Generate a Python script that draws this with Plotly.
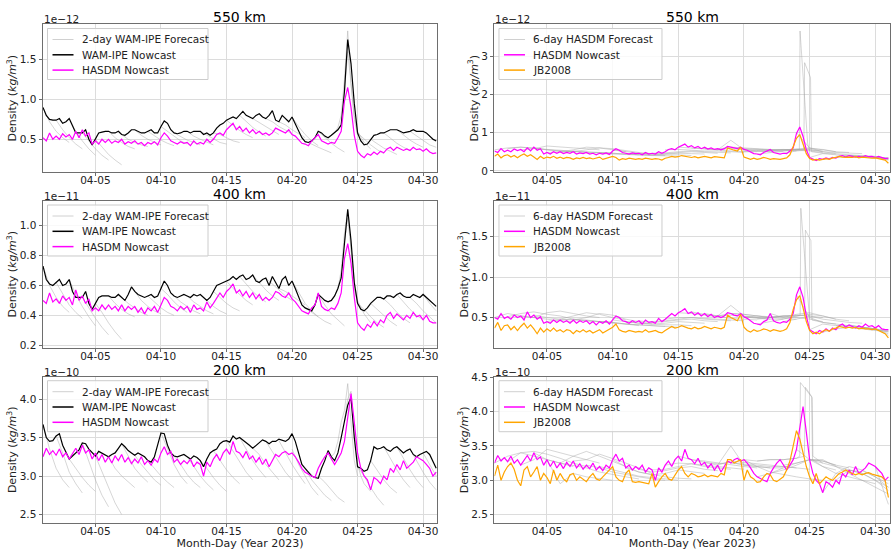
import pandas as pd
import plotly.graph_objects as go

T0 = pd.Timestamp("2023-04-01 00:00")
NOW_STEP_H = 6  # nowcast sampling (hours)

# ---------------- Nowcasts (6-hourly, 04-01 00:00 .. 05-01 00:00) ----------------
WAM_550 = [0.90, 0.80, 0.75, 0.74, 0.74, 0.76, 0.70, 0.72, 0.76, 0.66, 0.58, 0.58,
           0.58, 0.62, 0.50, 0.43, 0.50, 0.58, 0.59, 0.60, 0.60, 0.58, 0.58, 0.60,
           0.56, 0.55, 0.58, 0.62, 0.62, 0.60, 0.58, 0.58, 0.60, 0.62, 0.58, 0.58,
           0.66, 0.73, 0.70, 0.62, 0.58, 0.57, 0.58, 0.60, 0.60, 0.58, 0.60, 0.60,
           0.60, 0.56, 0.58, 0.55, 0.58, 0.64, 0.68, 0.70, 0.74, 0.76, 0.78, 0.76,
           0.80, 0.85, 0.80, 0.78, 0.76, 0.80, 0.82, 0.78, 0.76, 0.80, 0.86, 0.74,
           0.72, 0.80, 0.76, 0.72, 0.78, 0.70, 0.62, 0.52, 0.47, 0.46, 0.48, 0.52,
           0.60, 0.58, 0.54, 0.52, 0.55, 0.58, 0.62, 0.68, 1.10, 1.75, 1.45, 0.95,
           0.58, 0.48, 0.43, 0.44, 0.50, 0.55, 0.56, 0.58, 0.58, 0.60, 0.62, 0.62,
           0.62, 0.60, 0.58, 0.59, 0.60, 0.62, 0.60, 0.60, 0.60, 0.58, 0.54, 0.50,
           0.48]
HASDM_550 = [0.52, 0.48, 0.58, 0.50, 0.54, 0.50, 0.57, 0.53, 0.56, 0.50, 0.60, 0.52,
             0.62, 0.54, 0.58, 0.44, 0.48, 0.44, 0.50, 0.46, 0.50, 0.45, 0.48, 0.46,
             0.50, 0.44, 0.47, 0.45, 0.48, 0.44, 0.46, 0.42, 0.46, 0.44, 0.47, 0.43,
             0.52, 0.58, 0.54, 0.48, 0.46, 0.44, 0.47, 0.45, 0.46, 0.42, 0.48, 0.44,
             0.46, 0.44, 0.50, 0.46, 0.50, 0.56, 0.58, 0.55, 0.62, 0.66, 0.70, 0.62,
             0.66, 0.60, 0.64, 0.58, 0.62, 0.57, 0.60, 0.56, 0.58, 0.55, 0.58, 0.64,
             0.62, 0.60, 0.58, 0.62, 0.56, 0.54, 0.50, 0.45, 0.44, 0.42, 0.48, 0.52,
             0.56, 0.48, 0.46, 0.44, 0.46, 0.45, 0.52, 0.60, 0.98, 1.15, 0.90, 0.55,
             0.35, 0.30, 0.27, 0.32, 0.30, 0.34, 0.31, 0.35, 0.33, 0.38, 0.40, 0.36,
             0.40, 0.38, 0.36, 0.38, 0.36, 0.40, 0.37, 0.38, 0.35, 0.38, 0.34, 0.32,
             0.33]
JB_550 = [0.38, 0.44, 0.34, 0.40, 0.42, 0.36, 0.40, 0.34, 0.40, 0.44, 0.38, 0.42,
          0.36, 0.30, 0.38, 0.32, 0.36, 0.34, 0.38, 0.33, 0.36, 0.32, 0.35, 0.34,
          0.30, 0.34, 0.32, 0.35, 0.32, 0.34, 0.31, 0.33, 0.36, 0.30, 0.33, 0.35,
          0.38, 0.35, 0.28, 0.32, 0.30, 0.33, 0.31, 0.30, 0.32, 0.30, 0.33, 0.31,
          0.30, 0.32, 0.31, 0.28, 0.33, 0.35, 0.38, 0.36, 0.37, 0.40, 0.38, 0.36,
          0.35, 0.37, 0.34, 0.36, 0.38, 0.36, 0.34, 0.37, 0.36, 0.35, 0.34, 0.60,
          0.56, 0.54, 0.52, 0.62, 0.36, 0.32, 0.30, 0.33, 0.30, 0.32, 0.35, 0.33,
          0.30, 0.32, 0.31, 0.30, 0.32, 0.34, 0.42, 0.62, 0.85, 0.95, 0.70, 0.45,
          0.32, 0.28, 0.30, 0.28, 0.30, 0.32, 0.30, 0.34, 0.35, 0.38, 0.36, 0.35,
          0.36, 0.35, 0.37, 0.34, 0.36, 0.35, 0.34, 0.33, 0.34, 0.32, 0.30, 0.28,
          0.20]

WAM_400 = [0.73, 0.64, 0.61, 0.60, 0.62, 0.64, 0.60, 0.61, 0.64, 0.56, 0.52, 0.52,
           0.52, 0.56, 0.48, 0.44, 0.48, 0.52, 0.53, 0.53, 0.53, 0.52, 0.52, 0.54,
           0.52, 0.50, 0.54, 0.59, 0.56, 0.54, 0.53, 0.52, 0.53, 0.54, 0.52, 0.53,
           0.58, 0.63, 0.60, 0.55, 0.53, 0.52, 0.53, 0.54, 0.53, 0.52, 0.54, 0.53,
           0.54, 0.52, 0.50, 0.52, 0.56, 0.60, 0.61, 0.62, 0.63, 0.64, 0.66, 0.64,
           0.66, 0.67, 0.64, 0.65, 0.67, 0.63, 0.62, 0.64, 0.65, 0.60, 0.66, 0.62,
           0.58, 0.64, 0.66, 0.60, 0.63, 0.58, 0.52, 0.47, 0.45, 0.44, 0.43, 0.47,
           0.54, 0.52, 0.50, 0.49, 0.50, 0.53, 0.58, 0.65, 0.90, 1.11, 0.90, 0.62,
           0.48, 0.44, 0.43, 0.45, 0.48, 0.50, 0.52, 0.52, 0.51, 0.53, 0.53, 0.52,
           0.54, 0.55, 0.53, 0.52, 0.52, 0.54, 0.53, 0.52, 0.54, 0.52, 0.50, 0.48,
           0.46]
HASDM_400 = [0.50, 0.48, 0.55, 0.49, 0.51, 0.48, 0.53, 0.50, 0.52, 0.47, 0.57, 0.50,
             0.53, 0.48, 0.51, 0.43, 0.45, 0.43, 0.47, 0.44, 0.47, 0.44, 0.46, 0.43,
             0.47, 0.43, 0.46, 0.44, 0.46, 0.42, 0.45, 0.41, 0.45, 0.43, 0.46, 0.42,
             0.47, 0.52, 0.50, 0.46, 0.45, 0.43, 0.46, 0.44, 0.46, 0.42, 0.47, 0.44,
             0.45, 0.43, 0.49, 0.45, 0.48, 0.52, 0.55, 0.52, 0.56, 0.58, 0.61, 0.55,
             0.57, 0.53, 0.56, 0.52, 0.55, 0.51, 0.54, 0.50, 0.52, 0.50, 0.52, 0.56,
             0.55, 0.53, 0.52, 0.55, 0.51, 0.49, 0.46, 0.43, 0.42, 0.41, 0.45, 0.47,
             0.55, 0.46, 0.44, 0.43, 0.45, 0.44, 0.48, 0.55, 0.78, 0.88, 0.75, 0.52,
             0.35, 0.32, 0.30, 0.34, 0.32, 0.36, 0.33, 0.37, 0.35, 0.40, 0.42, 0.38,
             0.41, 0.39, 0.37, 0.40, 0.38, 0.42, 0.39, 0.40, 0.37, 0.40, 0.36, 0.35,
             0.35]
JB_400 = [0.37, 0.44, 0.34, 0.40, 0.41, 0.35, 0.39, 0.34, 0.39, 0.43, 0.37, 0.41,
          0.36, 0.30, 0.37, 0.32, 0.36, 0.33, 0.37, 0.33, 0.35, 0.32, 0.35, 0.34,
          0.30, 0.34, 0.32, 0.35, 0.32, 0.34, 0.31, 0.33, 0.35, 0.31, 0.33, 0.35,
          0.38, 0.42, 0.35, 0.33, 0.32, 0.34, 0.33, 0.32, 0.33, 0.32, 0.35, 0.32,
          0.33, 0.34, 0.32, 0.31, 0.34, 0.36, 0.39, 0.37, 0.38, 0.40, 0.38, 0.37,
          0.36, 0.38, 0.36, 0.37, 0.39, 0.37, 0.36, 0.38, 0.37, 0.36, 0.38, 0.53,
          0.50, 0.48, 0.46, 0.54, 0.38, 0.34, 0.32, 0.35, 0.33, 0.34, 0.36, 0.35,
          0.33, 0.35, 0.34, 0.33, 0.34, 0.36, 0.44, 0.60, 0.72, 0.77, 0.62, 0.45,
          0.34, 0.30, 0.32, 0.30, 0.33, 0.35, 0.33, 0.36, 0.37, 0.39, 0.38, 0.37,
          0.38, 0.37, 0.38, 0.36, 0.37, 0.36, 0.36, 0.35, 0.36, 0.34, 0.33, 0.30,
          0.25]

WAM_200 = [3.67, 3.50, 3.45, 3.46, 3.52, 3.55, 3.40, 3.30, 3.22, 3.26, 3.30, 3.34,
           3.43, 3.42, 3.35, 3.30, 3.26, 3.32, 3.30, 3.27, 3.25, 3.28, 3.30, 3.36,
           3.42, 3.38, 3.33, 3.30, 3.27, 3.30, 3.28, 3.25, 3.20, 3.18, 3.25, 3.40,
           3.56, 3.55, 3.40, 3.30, 3.26, 3.25, 3.27, 3.28, 3.25, 3.22, 3.26, 3.24,
           3.20, 3.12, 3.22, 3.30, 3.33, 3.35, 3.42, 3.45, 3.46, 3.44, 3.52, 3.48,
           3.50, 3.47, 3.44, 3.40, 3.36, 3.40, 3.44, 3.47, 3.45, 3.42, 3.45, 3.45,
           3.48, 3.46, 3.45, 3.48, 3.55, 3.45, 3.30, 3.15, 3.10, 3.05, 3.00, 2.98,
           2.97, 3.10, 3.20, 3.33, 3.25, 3.20, 3.30, 3.50, 3.72, 3.92, 4.02, 3.50,
           3.12, 3.10, 3.06, 3.08, 3.20, 3.38, 3.35, 3.36, 3.38, 3.34, 3.32, 3.36,
           3.38, 3.34, 3.30, 3.33, 3.35, 3.28, 3.25, 3.28, 3.30, 3.32, 3.28, 3.18,
           3.10]
HASDM_200 = [3.25, 3.36, 3.28, 3.33, 3.27, 3.35, 3.25, 3.30, 3.22, 3.30, 3.36, 3.28,
             3.40, 3.30, 3.34, 3.22, 3.30, 3.20, 3.28, 3.18, 3.25, 3.17, 3.26, 3.20,
             3.28, 3.18, 3.24, 3.16, 3.22, 3.17, 3.25, 3.15, 3.20, 3.14, 3.22, 3.18,
             3.30, 3.38, 3.28, 3.32, 3.18, 3.22, 3.15, 3.20, 3.16, 3.22, 3.12, 3.18,
             3.15, 3.00, 3.18, 3.12, 3.22, 3.28, 3.20, 3.30, 3.35, 3.28, 3.45, 3.32,
             3.30, 3.24, 3.32, 3.22, 3.26, 3.18, 3.24, 3.15, 3.22, 3.12, 3.20, 3.28,
             3.25, 3.30, 3.32, 3.28, 3.30, 3.25, 3.18, 3.10, 3.05, 3.02, 3.00, 2.98,
             3.10, 3.18, 3.25, 3.30, 3.22, 3.15, 3.22, 3.30, 3.45, 3.75, 4.07, 3.70,
             3.30, 3.10, 3.00, 2.95, 2.82, 2.98, 2.95, 2.90, 3.00, 2.95, 3.10, 3.05,
             3.15, 3.08, 3.20, 3.10, 3.14, 3.18, 3.25, 3.22, 3.20, 3.15, 3.10, 3.00,
             3.05]
JB_200 = [3.06, 3.22, 3.00, 3.12, 3.20, 3.25, 3.16, 3.00, 2.92, 3.15, 3.20, 3.05,
          3.12, 3.20, 3.00, 3.10, 3.04, 2.95, 3.15, 3.00, 3.10, 3.02, 2.98, 3.08,
          3.10, 3.00, 3.05, 3.02, 2.98, 3.05, 3.10, 3.02, 3.00, 3.05, 3.10, 3.15,
          3.20, 3.05, 3.00, 2.98, 3.10, 3.15, 2.98, 2.97, 2.98, 2.97, 2.96, 2.95,
          3.10, 2.90, 2.98, 3.05, 3.10, 3.02, 3.00, 3.08, 3.15, 3.20, 3.10, 3.05,
          3.10, 3.08, 3.05, 3.06, 3.08, 3.05, 3.07, 3.06, 3.05, 3.10, 3.08, 3.30,
          3.30, 3.25, 3.28, 3.30, 3.00, 3.15, 3.05, 3.02, 2.97, 2.98, 3.05, 3.10,
          3.08, 3.00, 2.98, 3.02, 3.05, 3.15, 3.28, 3.50, 3.72, 3.60, 3.40, 3.20,
          3.05, 2.95, 3.10, 2.95, 3.00, 3.05, 3.02, 3.00, 3.05, 3.10, 3.12, 3.15,
          3.12, 3.10, 3.08, 3.10, 3.08, 3.10, 3.11, 3.09, 3.08, 3.07, 3.05, 3.00,
          2.75]

# ---------------- 2-day WAM-IPE forecasts (one run per day) ----------------
WFC_START_DAY = [0, 1, 2, 3, 4, 5, 6, 7, 8, 9, 10, 11, 12, 13, 14,
                 15, 16, 17, 18, 19, 20, 21, 22, 23, 24, 25, 26, 27, 28, 29]
WFC_STEP_H = [12, 12, 12, 12, 12, 12, 12, 12, 12, 12, 12, 12, 12, 12, 12,
              12, 12, 12, 12, 12, 12, 12, 6, 6, 12, 12, 12, 12, 12, 12]
WFC_550 = [
    [0.90, 0.72, 0.60, 0.52, 0.46], [0.74, 0.62, 0.52, 0.44, 0.38],
    [0.76, 0.60, 0.48, 0.38, 0.30], [0.58, 0.48, 0.38, 0.30, 0.24],
    [0.50, 0.40, 0.31, 0.24, 0.18], [0.60, 0.52, 0.46, 0.41, 0.38],
    [0.56, 0.50, 0.46, 0.43, 0.41], [0.62, 0.55, 0.50, 0.46, 0.43],
    [0.60, 0.54, 0.49, 0.45, 0.42], [0.66, 0.60, 0.53, 0.48, 0.44],
    [0.58, 0.53, 0.49, 0.46, 0.43], [0.60, 0.54, 0.50, 0.46, 0.43],
    [0.60, 0.55, 0.50, 0.46, 0.44], [0.58, 0.56, 0.52, 0.48, 0.46],
    [0.74, 0.67, 0.61, 0.56, 0.52], [0.80, 0.72, 0.65, 0.59, 0.54],
    [0.76, 0.71, 0.65, 0.60, 0.56], [0.76, 0.72, 0.66, 0.61, 0.57],
    [0.72, 0.68, 0.62, 0.57, 0.52], [0.78, 0.66, 0.56, 0.48, 0.42],
    [0.47, 0.44, 0.40, 0.36, 0.33], [0.60, 0.52, 0.45, 0.39, 0.34],
    [0.55, 0.58, 0.65, 0.80, 1.25, 1.86, 1.20, 0.75, 0.55],
    [1.10, 1.60, 1.20, 0.80, 0.60, 0.52, 0.46, 0.42, 0.38],
    [0.58, 0.50, 0.43, 0.37, 0.32], [0.50, 0.44, 0.39, 0.35, 0.31],
    [0.58, 0.51, 0.45, 0.40, 0.36], [0.62, 0.55, 0.49, 0.44, 0.40],
    [0.60, 0.54, 0.48, 0.43, 0.40], [0.60, 0.54, 0.48],
]
WFC_400 = [
    [0.73, 0.60, 0.52, 0.46, 0.42], [0.62, 0.54, 0.47, 0.42, 0.38],
    [0.64, 0.54, 0.46, 0.39, 0.33], [0.52, 0.45, 0.38, 0.32, 0.27],
    [0.48, 0.42, 0.35, 0.29, 0.24], [0.53, 0.48, 0.44, 0.41, 0.39],
    [0.52, 0.48, 0.45, 0.42, 0.40], [0.56, 0.50, 0.46, 0.43, 0.41],
    [0.53, 0.49, 0.45, 0.42, 0.40], [0.58, 0.54, 0.49, 0.45, 0.42],
    [0.53, 0.49, 0.46, 0.43, 0.41], [0.53, 0.49, 0.46, 0.43, 0.41],
    [0.54, 0.50, 0.46, 0.43, 0.41], [0.56, 0.52, 0.48, 0.45, 0.43],
    [0.63, 0.58, 0.54, 0.50, 0.47], [0.66, 0.61, 0.56, 0.52, 0.49],
    [0.67, 0.62, 0.57, 0.53, 0.50], [0.65, 0.61, 0.57, 0.53, 0.50],
    [0.58, 0.56, 0.53, 0.50, 0.47], [0.63, 0.55, 0.48, 0.43, 0.39],
    [0.45, 0.42, 0.39, 0.36, 0.34], [0.54, 0.47, 0.41, 0.37, 0.33],
    [0.50, 0.53, 0.58, 0.70, 0.95, 1.10, 0.85, 0.58, 0.48],
    [0.90, 1.05, 0.85, 0.62, 0.50, 0.45, 0.41, 0.38, 0.35],
    [0.48, 0.44, 0.39, 0.35, 0.32], [0.48, 0.44, 0.40, 0.36, 0.33],
    [0.51, 0.47, 0.42, 0.38, 0.35], [0.54, 0.49, 0.44, 0.40, 0.37],
    [0.52, 0.48, 0.43, 0.39, 0.35], [0.54, 0.48, 0.43],
]
WFC_200 = [
    [3.67, 3.35, 3.10, 2.95, 2.85], [3.52, 3.30, 3.05, 2.90, 2.78],
    [3.22, 3.10, 2.98, 2.88, 2.80], [3.43, 3.20, 2.95, 2.75, 2.60],
    [3.26, 3.05, 2.85, 2.65, 2.50], [3.25, 3.10, 3.00, 2.92, 2.85],
    [3.42, 3.25, 3.10, 3.00, 2.92], [3.27, 3.15, 3.05, 2.95, 2.88],
    [3.20, 3.10, 3.00, 2.92, 2.85], [3.56, 3.35, 3.15, 3.00, 2.90],
    [3.26, 3.15, 3.02, 2.92, 2.85], [3.25, 3.12, 3.00, 2.90, 2.82],
    [3.20, 3.10, 2.98, 2.88, 2.80], [3.33, 3.20, 3.08, 2.98, 2.90],
    [3.46, 3.32, 3.18, 3.05, 2.95], [3.50, 3.35, 3.20, 3.08, 2.98],
    [3.36, 3.28, 3.15, 3.05, 2.95], [3.45, 3.32, 3.18, 3.05, 2.95],
    [3.46, 3.30, 3.15, 3.02, 2.90], [3.35, 3.15, 3.00, 2.85, 2.75],
    [3.10, 2.95, 2.85, 2.75, 2.68], [3.00, 2.92, 2.82, 2.72, 2.66],
    [3.25, 3.30, 3.45, 3.70, 3.85, 4.20, 3.70, 3.20, 3.00],
    [3.72, 4.00, 4.10, 3.60, 3.15, 3.00, 2.90, 2.85, 2.80],
    [3.12, 3.00, 2.85, 2.72, 2.62], [3.20, 3.08, 2.95, 2.85, 2.78],
    [3.38, 3.22, 3.08, 2.95, 2.85], [3.38, 3.22, 3.08, 2.95, 2.85],
    [3.35, 3.20, 3.05, 2.92, 2.82], [3.30, 3.15, 3.00],
]

# ---------------- 6-day HASDM forecasts (one run per day, daily points) ----------------
HFC_START_DAY = WFC_START_DAY
HFC_STEP_H = 24
HFC_550 = [
    [0.55, 0.60, 0.62, 0.58, 0.55, 0.52, 0.50], [0.58, 0.62, 0.60, 0.56, 0.54, 0.50, 0.48],
    [0.55, 0.58, 0.65, 0.62, 0.60, 0.58, 0.55], [0.60, 0.55, 0.52, 0.50, 0.48, 0.47, 0.46],
    [0.48, 0.50, 0.55, 0.62, 0.60, 0.55, 0.50], [0.48, 0.52, 0.50, 0.48, 0.46, 0.44, 0.42],
    [0.50, 0.55, 0.60, 0.58, 0.52, 0.48, 0.45], [0.46, 0.48, 0.46, 0.44, 0.42, 0.40, 0.40],
    [0.45, 0.44, 0.42, 0.42, 0.40, 0.40, 0.38], [0.55, 0.50, 0.46, 0.44, 0.42, 0.42, 0.40],
    [0.46, 0.44, 0.42, 0.44, 0.46, 0.45, 0.44], [0.45, 0.44, 0.45, 0.48, 0.50, 0.48, 0.46],
    [0.46, 0.47, 0.50, 0.52, 0.50, 0.48, 0.47], [0.55, 0.56, 0.54, 0.52, 0.52, 0.50, 0.48],
    [0.62, 0.60, 0.58, 0.55, 0.52, 0.50, 0.50], [0.60, 0.58, 0.56, 0.58, 0.55, 0.52, 0.50],
    [0.58, 0.55, 0.80, 0.55, 0.52, 0.50, 0.50], [0.57, 0.62, 0.60, 0.58, 0.55, 0.54, 0.52],
    [0.60, 0.58, 0.56, 0.55, 0.55, 0.54, 0.52], [0.50, 0.52, 0.54, 0.55, 0.56, 0.55, 0.52],
    [0.44, 0.48, 0.52, 0.55, 0.58, 0.56, 0.50], [0.52, 0.55, 0.58, 0.60, 0.55, 0.50, 0.48],
    [0.46, 0.52, 0.55, 0.50, 0.48, 0.46, 0.45], [1.00, 0.60, 0.50, 0.45, 0.42, 0.40, 0.38],
    [0.35, 0.45, 0.42, 0.40, 0.38, 0.36, 0.34], [0.30, 0.35, 0.38, 0.36, 0.34, 0.32],
    [0.38, 0.40, 0.38, 0.36, 0.34], [0.40, 0.38, 0.35, 0.30],
    [0.38, 0.36, 0.30], [0.36, 0.28],
]
HFC_400 = [
    [0.50, 0.55, 0.52, 0.50, 0.48, 0.46, 0.45], [0.51, 0.55, 0.57, 0.54, 0.52, 0.48, 0.46],
    [0.52, 0.50, 0.56, 0.58, 0.55, 0.52, 0.50], [0.53, 0.50, 0.48, 0.47, 0.46, 0.45, 0.44],
    [0.45, 0.48, 0.52, 0.56, 0.54, 0.50, 0.47], [0.47, 0.48, 0.47, 0.45, 0.44, 0.42, 0.40],
    [0.47, 0.50, 0.55, 0.53, 0.48, 0.45, 0.42], [0.46, 0.45, 0.44, 0.42, 0.41, 0.40, 0.39],
    [0.45, 0.43, 0.42, 0.41, 0.40, 0.39, 0.38], [0.47, 0.45, 0.43, 0.42, 0.41, 0.41, 0.40],
    [0.45, 0.43, 0.42, 0.43, 0.45, 0.44, 0.43], [0.46, 0.44, 0.45, 0.47, 0.48, 0.46, 0.45],
    [0.45, 0.46, 0.48, 0.50, 0.48, 0.47, 0.46], [0.48, 0.50, 0.50, 0.49, 0.48, 0.47, 0.46],
    [0.56, 0.55, 0.53, 0.51, 0.49, 0.48, 0.47], [0.57, 0.54, 0.52, 0.53, 0.51, 0.49, 0.48],
    [0.55, 0.52, 0.65, 0.52, 0.50, 0.48, 0.48], [0.52, 0.55, 0.54, 0.52, 0.50, 0.49, 0.48],
    [0.55, 0.54, 0.52, 0.51, 0.51, 0.50, 0.48], [0.51, 0.50, 0.50, 0.52, 0.53, 0.52, 0.50],
    [0.42, 0.45, 0.48, 0.52, 0.54, 0.52, 0.48], [0.55, 0.50, 0.54, 0.56, 0.52, 0.48, 0.46],
    [0.45, 0.48, 0.52, 0.48, 0.46, 0.44, 0.43], [0.78, 0.50, 0.44, 0.42, 0.40, 0.38, 0.36],
    [0.35, 0.42, 0.40, 0.38, 0.36, 0.34, 0.33], [0.32, 0.36, 0.38, 0.37, 0.35, 0.33],
    [0.40, 0.40, 0.38, 0.36, 0.34], [0.41, 0.38, 0.36, 0.32],
    [0.38, 0.36, 0.30], [0.37, 0.28],
]
HFC_200 = [
    [3.25, 3.35, 3.40, 3.35, 3.30, 3.25, 3.20], [3.27, 3.40, 3.42, 3.38, 3.32, 3.25, 3.20],
    [3.22, 3.30, 3.45, 3.40, 3.35, 3.30, 3.25], [3.40, 3.30, 2.95, 3.10, 3.05, 3.02, 3.00],
    [3.30, 3.25, 3.35, 3.42, 3.35, 3.28, 3.20], [3.25, 3.22, 3.18, 3.12, 3.08, 3.05, 3.02],
    [3.28, 3.30, 3.38, 3.32, 3.25, 3.18, 3.10], [3.22, 3.18, 3.12, 3.08, 3.05, 3.02, 3.00],
    [3.20, 3.15, 3.10, 3.06, 3.04, 3.02, 3.00], [3.30, 3.20, 3.12, 3.08, 3.05, 3.03, 3.02],
    [3.18, 3.12, 3.08, 3.10, 3.15, 3.12, 3.10], [3.16, 3.12, 3.14, 3.18, 3.20, 3.16, 3.14],
    [3.15, 3.16, 3.20, 3.24, 3.20, 3.18, 3.16], [3.22, 3.25, 3.24, 3.22, 3.20, 3.18, 3.16],
    [3.35, 3.30, 3.28, 3.25, 3.22, 3.20, 3.18], [3.30, 3.26, 3.24, 3.26, 3.22, 3.20, 3.18],
    [3.26, 3.22, 3.50, 3.22, 3.20, 3.18, 3.18], [3.22, 3.28, 3.26, 3.24, 3.22, 3.20, 3.18],
    [3.25, 3.24, 3.22, 3.20, 3.20, 3.18, 3.16], [3.30, 3.20, 3.12, 3.08, 3.05, 3.02, 3.00],
    [3.05, 3.10, 3.18, 3.25, 3.30, 3.28, 3.22], [3.10, 3.15, 3.22, 3.30, 3.28, 3.22, 3.18],
    [3.22, 3.25, 3.30, 3.25, 3.20, 3.15, 3.12], [3.45, 3.30, 3.20, 3.10, 3.05, 3.00, 2.95],
    [3.30, 3.30, 3.20, 3.10, 3.00, 2.90, 2.80], [2.82, 3.10, 3.20, 3.15, 3.05, 2.95],
    [3.00, 3.15, 3.10, 3.00, 2.90], [3.15, 3.10, 3.00, 2.85],
    [3.14, 3.05, 2.90], [3.20, 2.65],
]
# forecast runs that predicted the storm (irregular sampling, day offsets from 04-01)
HSPK_550_DAYS = [[19, 20, 21, 22, 23, 23.22, 23.27, 23.85, 24.0, 25.0],
                 [20, 21, 22, 23, 23.56, 23.62, 24.07, 24.14, 25.0, 26.0]]
HSPK_550_VALS = [[0.55, 0.56, 0.55, 0.56, 0.55, 0.56, 3.66, 0.72, 0.52, 0.48],
                 [0.52, 0.54, 0.55, 0.56, 0.56, 2.83, 2.44, 0.50, 0.46, 0.44]]
HSPK_400_DAYS = [[19, 20, 21, 22, 23, 23.28, 23.33, 23.9, 24.0, 25.0],
                 [20, 21, 22, 23, 23.62, 23.68, 24.1, 24.18, 25.0, 26.0]]
HSPK_400_VALS = [[0.50, 0.52, 0.50, 0.52, 0.52, 0.53, 1.85, 0.60, 0.48, 0.45],
                 [0.48, 0.50, 0.52, 0.52, 0.53, 1.58, 1.45, 0.47, 0.44, 0.42]]
HSPK_200_DAYS = [[19, 20, 21, 22, 23, 23.25, 23.3, 23.6, 24.2, 24.25, 25.0],
                 [20, 21, 22, 23, 23.6, 23.68, 24.15, 24.22, 25.0, 26.0]]
HSPK_200_VALS = [[3.30, 3.28, 3.30, 3.30, 3.32, 3.35, 4.42, 4.35, 4.20, 3.35, 3.25],
                 [3.28, 3.30, 3.30, 3.32, 3.35, 4.35, 4.22, 3.30, 3.20, 3.15]]

TITLES = ["550 km", "400 km", "200 km"]
OFFSETS = ["1e\u221212", "1e\u221211", "1e\u221210"]
XTICK_DATES = ["2023-04-05", "2023-04-10", "2023-04-15", "2023-04-20", "2023-04-25", "2023-04-30"]
LEFT_LEGEND = ["2-day WAM-IPE Forecast", "WAM-IPE Nowcast", "HASDM Nowcast"]
RIGHT_LEGEND = ["6-day HASDM Forecast", "HASDM Nowcast", "JB2008"]

# ---------------- helpers ----------------
def ts(day):
    return T0 + pd.Timedelta(hours=day * 24)

NOW_T = [T0 + pd.Timedelta(hours=NOW_STEP_H * i) for i in range(len(WAM_550))]

W, H = 894, 553
FONT = "DejaVu Sans"
GRAY = "rgba(165,165,165,0.45)"
GRAY_LEG = "#d0d0d0"
MAG = "#ff00ff"
ORA = "#ffa500"
fig = go.Figure()

XD = {1: [0.0481, 0.4888], 2: [0.5531, 0.9955]}
YD = {1: [0.6890, 0.9557], 2: [0.3716, 0.6365], 3: [0.0543, 0.3188]}
XR = {1: [ts(0), ts(30.06)], 2: [ts(0), ts(30.12)]}
YR = {(1, 1): [0.09, 1.94], (2, 1): [0.185, 1.165], (3, 1): [2.39, 4.29],
      (1, 2): [-0.03, 3.83], (2, 2): [0.13, 1.94], (3, 2): [2.38, 4.505]}
YDT = {(1, 1): 0.5, (2, 1): 0.2, (3, 1): 0.5, (1, 2): 1, (2, 2): 0.5, (3, 2): 0.5}
YFMT = {(1, 1): ".1f", (2, 1): ".1f", (3, 1): ".1f", (1, 2): "d", (2, 2): ".1f", (3, 2): ".1f"}

WFC = {1: WFC_550, 2: WFC_400, 3: WFC_200}
HFC = {1: HFC_550, 2: HFC_400, 3: HFC_200}
SPK = {1: (HSPK_550_DAYS, HSPK_550_VALS), 2: (HSPK_400_DAYS, HSPK_400_VALS),
       3: (HSPK_200_DAYS, HSPK_200_VALS)}
WAM = {1: WAM_550, 2: WAM_400, 3: WAM_200}
HAS = {1: HASDM_550, 2: HASDM_400, 3: HASDM_200}
JB = {1: JB_550, 2: JB_400, 3: JB_200}

shapes = []
annos = []

def px_x(p):
    return p / W

def px_y(p):
    return 1 - p / H

def add_legend(c, r, names, colors, widths, box_w):
    fl = XD[c][0] * W
    ft = (1 - YD[r][1]) * H
    bx, by = fl + 4.5, ft + 4
    bh = 51
    shapes.append(dict(type="rect", xref="paper", yref="paper", layer="above",
                       x0=px_x(bx), x1=px_x(bx + box_w), y0=px_y(by + bh), y1=px_y(by),
                       fillcolor="rgba(255,255,255,0.82)", line=dict(color="#cccccc", width=1)))
    for i, (nm, col, lw) in enumerate(zip(names, colors, widths)):
        cy = by + 11 + i * 15.3
        shapes.append(dict(type="line", xref="paper", yref="paper", layer="above",
                           x0=px_x(bx + 5), x1=px_x(bx + 26), y0=px_y(cy), y1=px_y(cy),
                           line=dict(color=col, width=lw)))
        annos.append(dict(x=px_x(bx + 32), y=px_y(cy), xref="paper", yref="paper", text=nm,
                          showarrow=False, xanchor="left", yanchor="middle",
                          font=dict(family=FONT, size=10.5, color="#222")))

idx = 0
for r in (1, 2, 3):
    for c in (1, 2):
        idx += 1
        xa = "x" if idx == 1 else f"x{idx}"
        ya = "y" if idx == 1 else f"y{idx}"
        if c == 1:
            for k, vals in enumerate(WFC[r]):
                s = WFC_START_DAY[k]
                st = WFC_STEP_H[k]
                xs = [ts(s + i * st / 24) for i in range(len(vals))]
                fig.add_trace(go.Scatter(x=xs, y=vals, mode="lines", xaxis=xa, yaxis=ya,
                                         line=dict(color=GRAY, width=1), name=LEFT_LEGEND[0],
                                         showlegend=False, hoverinfo="skip"))
            fig.add_trace(go.Scatter(x=NOW_T, y=WAM[r], mode="lines", xaxis=xa, yaxis=ya,
                                     line=dict(color="black", width=1.2),
                                     name=LEFT_LEGEND[1], showlegend=False))
            fig.add_trace(go.Scatter(x=NOW_T, y=HAS[r], mode="lines", xaxis=xa, yaxis=ya,
                                     line=dict(color=MAG, width=1.2),
                                     name=LEFT_LEGEND[2], showlegend=False))
            add_legend(c, r, LEFT_LEGEND, [GRAY_LEG, "black", MAG], [1, 1.5, 1.5], 160.5)
        else:
            for k, vals in enumerate(HFC[r]):
                s = HFC_START_DAY[k]
                xs = [ts(s + i * HFC_STEP_H / 24) for i in range(len(vals))]
                fig.add_trace(go.Scatter(x=xs, y=vals, mode="lines", xaxis=xa, yaxis=ya,
                                         line=dict(color=GRAY, width=1), name=RIGHT_LEGEND[0],
                                         showlegend=False, hoverinfo="skip"))
            days, vals2 = SPK[r]
            for dd, vv in zip(days, vals2):
                fig.add_trace(go.Scatter(x=[ts(d) for d in dd], y=vv, mode="lines", xaxis=xa, yaxis=ya,
                                         line=dict(color=GRAY, width=1), name=RIGHT_LEGEND[0],
                                         showlegend=False, hoverinfo="skip"))
            fig.add_trace(go.Scatter(x=NOW_T, y=HAS[r], mode="lines", xaxis=xa, yaxis=ya,
                                     line=dict(color=MAG, width=1.2),
                                     name=RIGHT_LEGEND[1], showlegend=False))
            fig.add_trace(go.Scatter(x=NOW_T, y=JB[r], mode="lines", xaxis=xa, yaxis=ya,
                                     line=dict(color=ORA, width=1.2),
                                     name=RIGHT_LEGEND[2], showlegend=False))
            add_legend(c, r, RIGHT_LEGEND, [GRAY_LEG, MAG, ORA], [1, 1.5, 1.5], 163)

        axcommon = dict(showline=True, mirror=True, linecolor="#6e6e6e", linewidth=1,
                        showgrid=True, gridcolor="#dcdcdc", gridwidth=1, zeroline=False,
                        ticks="outside", ticklen=3.5, tickcolor="#6e6e6e",
                        tickfont=dict(family=FONT, size=10.5, color="#222"), automargin=False)
        xdict = dict(axcommon, domain=XD[c], anchor=ya, type="date", range=XR[c],
                     tickvals=XTICK_DATES, tickformat="%m-%d", ticklabelstandoff=-5)
        if r == 3:
            xdict["title"] = dict(text="Month-Day (Year 2023)", standoff=2,
                                  font=dict(family=FONT, size=11, color="#222"))
        ydict = dict(axcommon, domain=YD[r], anchor=xa, range=YR[(r, c)], tick0=0,
                     dtick=YDT[(r, c)], tickformat=YFMT[(r, c)],
                     title=dict(text="Density (<i>kg/m</i><sup>3</sup>)", standoff=0,
                                font=dict(family=FONT, size=11, color="#222")))
        xkey = "xaxis" if idx == 1 else f"xaxis{idx}"
        ykey = "yaxis" if idx == 1 else f"yaxis{idx}"
        fig.update_layout({xkey: xdict, ykey: ydict})
        xm = (XD[c][0] + XD[c][1]) / 2
        annos.append(dict(x=xm, y=YD[r][1], xref="paper", yref="paper", text=TITLES[r - 1],
                          showarrow=False, xanchor="center", yanchor="bottom", yshift=-2,
                          borderpad=0, font=dict(family=FONT, size=14, color="black")))
        annos.append(dict(x=XD[c][0], y=YD[r][1], xref="paper", yref="paper", text=OFFSETS[r - 1],
                          showarrow=False, xanchor="left", yanchor="bottom", yshift=-2,
                          borderpad=0, font=dict(family=FONT, size=10.5, color="#222")))

fig.update_layout(width=W, height=H, margin=dict(l=0, r=0, t=0, b=0),
                  paper_bgcolor="white", plot_bgcolor="white", template="none",
                  font=dict(family=FONT, color="#222"), showlegend=False,
                  shapes=shapes, annotations=annos)
fig.write_html("out.html")
